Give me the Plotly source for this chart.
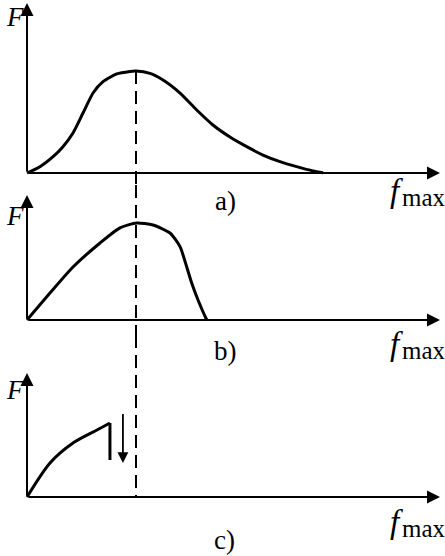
import plotly.graph_objects as go

# ---- data (normalised: x = f_max / f_peak, y = F / F_peak) ----
a_x = [0, 0.119, 0.239, 0.330, 0.422, 0.514, 0.606, 0.697, 0.823, 0.945, 1.0,
       1.128, 1.248, 1.404, 1.557, 1.706, 1.862, 2.016, 2.165, 2.321, 2.474, 2.624, 2.716]
a_y = [0, 0.062, 0.160, 0.258, 0.392, 0.588, 0.784, 0.895, 0.971, 0.996, 1.0,
       0.977, 0.912, 0.784, 0.618, 0.471, 0.353, 0.258, 0.176, 0.111, 0.062, 0.020, 0.003]

b_x = [0, 0.211, 0.422, 0.670, 0.853, 1.006, 1.156, 1.312, 1.404, 1.465, 1.511, 1.569, 1.642, 1.651]
b_y = [0, 0.278, 0.546, 0.794, 0.950, 1.0, 0.979, 0.897, 0.756, 0.549, 0.381, 0.206, 0.018, 0.0]

c_x = [0, 0.211, 0.422, 0.642, 0.761]
c_y = [0, 0.351, 0.557, 0.691, 0.763]
c_drop_x = [0.761, 0.761]
c_drop_y = [0.763, 0.381]

peak_x = 1.0
x_tip = 3.789
y_tips = [1.667, 1.289, 1.278]
drop_arrow_x = 0.88
drop_arrow_y = [0.87, 0.35]

panel_labels = ["a)", "b)", "c)"]
axis_label_y = "F"
axis_label_x = "f"
axis_label_x_sub = "max"

# ---- layout geometry (pixels) ----
W, H = 445, 556
x0_px, x_scale = 27, 109.0
panels = [  # (top px, bottom px, zero px, px per unit)
    (0, 185, 173, 102.0),
    (185, 335, 320, 97.0),
    (335, 556, 497, 97.0),
]

fig = go.Figure()
BLACK = "#000000"
FONT = "Liberation Serif, Times New Roman, serif"

xr = [-x0_px / x_scale, (W - x0_px) / x_scale]
yaxes = {}
ranges = []
for i, (top, bot, zero, s) in enumerate(panels):
    rng = [(zero - bot) / s, (zero - top) / s]
    ranges.append(rng)
    dom = [1 - bot / H, 1 - top / H]
    name = "yaxis" if i == 0 else f"yaxis{i+1}"
    yaxes[name] = dict(domain=dom, range=rng, visible=False, anchor="x", fixedrange=True)

yrefs = ["y", "y2", "y3"]

line_style = dict(color=BLACK, width=3)
fig.add_trace(go.Scatter(x=a_x, y=a_y, mode="lines", line=dict(**line_style, shape="spline", smoothing=0.6), yaxis="y", showlegend=False))
fig.add_trace(go.Scatter(x=b_x, y=b_y, mode="lines", line=dict(**line_style, shape="spline", smoothing=0.6), yaxis="y2", showlegend=False))
fig.add_trace(go.Scatter(x=c_x, y=c_y, mode="lines", line=dict(**line_style, shape="spline", smoothing=0.8), yaxis="y3", showlegend=False))
fig.add_trace(go.Scatter(x=c_drop_x, y=c_drop_y, mode="lines", line=dict(color=BLACK, width=3), yaxis="y3", showlegend=False))

# dashed vertical line at the peak, through all panels
dash = dict(color=BLACK, width=2, dash="13px,7px")
fig.add_trace(go.Scatter(x=[peak_x, peak_x], y=[1.0, ranges[0][0]], mode="lines", line=dash, yaxis="y", showlegend=False))
fig.add_trace(go.Scatter(x=[peak_x, peak_x], y=[ranges[1][1], ranges[1][0]], mode="lines", line=dash, yaxis="y2", showlegend=False))
fig.add_trace(go.Scatter(x=[peak_x, peak_x], y=[ranges[2][1], 0], mode="lines", line=dash, yaxis="y3", showlegend=False))

ann = []
for i, yr in enumerate(yrefs):
    # x axis arrow
    ann.append(dict(x=x_tip, y=0, ax=0, ay=0, xref="x", yref=yr, axref="x", ayref=yr,
                    text="", showarrow=True, arrowhead=2, arrowsize=1.3, arrowwidth=2, arrowcolor=BLACK))
    # y axis arrow
    ann.append(dict(x=0, y=y_tips[i], ax=0, ay=0, xref="x", yref=yr, axref="x", ayref=yr,
                    text="", showarrow=True, arrowhead=2, arrowsize=1.3, arrowwidth=2, arrowcolor=BLACK))

# downward arrow in panel c
ann.append(dict(x=drop_arrow_x, y=drop_arrow_y[1], ax=drop_arrow_x, ay=drop_arrow_y[0], xref="x", yref="y3",
                axref="x", ayref="y3", text="", showarrow=True, arrowhead=2, arrowsize=1.2, arrowwidth=1.8,
                arrowcolor=BLACK))

# text labels (pixel positions, centre of text box)
F_pos = [(15, 17), (15, 216), (15, 390)]
lab_pos = [(225, 201), (225, 351), (224, 540)]
f_pos = [(396, 191), (396, 344), (396, 522)]
max_pos = [(424, 197), (424, 350), (424, 528)]


def px(xp, yp):
    return xp / W, 1 - yp / H


for i in range(3):
    fx, fy = px(*F_pos[i])
    ann.append(dict(x=fx, y=fy, xref="paper", yref="paper", text=f"<i>{axis_label_y}</i>", showarrow=False,
                    font=dict(family=FONT, size=27, color=BLACK), xanchor="center", yanchor="middle"))
    lx, ly = px(*lab_pos[i])
    ann.append(dict(x=lx, y=ly, xref="paper", yref="paper", text=panel_labels[i], showarrow=False,
                    font=dict(family=FONT, size=27, color=BLACK), xanchor="center", yanchor="middle"))
    mx, my = px(*f_pos[i])
    ann.append(dict(x=mx, y=my, xref="paper", yref="paper", text=f"<i>{axis_label_x}</i>", showarrow=False,
                    font=dict(family=FONT, size=33, color=BLACK), xanchor="center", yanchor="middle"))
    sx, sy = px(*max_pos[i])
    ann.append(dict(x=sx, y=sy, xref="paper", yref="paper", text=axis_label_x_sub, showarrow=False,
                    font=dict(family=FONT, size=25, color=BLACK), xanchor="center", yanchor="middle"))

fig.update_layout(
    width=W, height=H,
    margin=dict(l=0, r=0, t=0, b=0),
    paper_bgcolor="white", plot_bgcolor="white",
    xaxis=dict(range=xr, visible=False, fixedrange=True),
    annotations=ann,
    showlegend=False,
    **yaxes,
)

fig.write_html("out.html", config={"displayModeBar": False},
               post_script="document.body.style.margin='0';document.body.style.padding='0';")
